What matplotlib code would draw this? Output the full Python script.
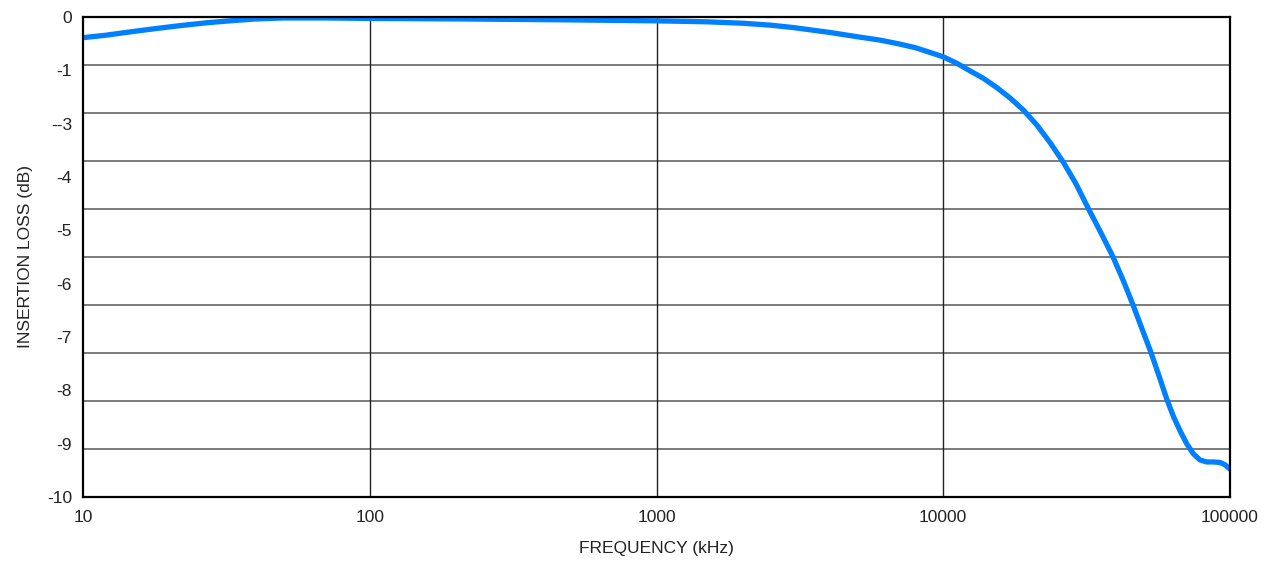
import matplotlib
matplotlib.use("Agg")
import matplotlib.pyplot as plt
import numpy as np
from matplotlib.ticker import FixedLocator, NullFormatter

plt.rcParams['font.family'] = ['Liberation Sans Narrow', 'Liberation Sans', 'DejaVu Sans']

freq_khz = [10, 12, 14.6, 18, 21.8, 27, 32.5, 40, 50, 70, 100, 200, 500,
            1000, 1500, 2000, 2500, 3000, 4000, 5000, 6000, 7000, 8000, 9010,
            10000, 11160, 12420, 13820, 15370, 17120, 19040, 21200, 23600, 26250, 29000,
            32000, 35500, 39100, 42500, 45900, 49500, 53100, 56500, 60180, 63470, 66950, 70630, 74500,
            78630, 82960, 87500, 92300, 96150, 100000]
loss_db = [-0.43, -0.38, -0.31, -0.24, -0.18, -0.12, -0.08, -0.04, -0.02, -0.02, -0.03, -0.04, -0.06,
           -0.08, -0.10, -0.13, -0.17, -0.22, -0.32, -0.41, -0.48, -0.56, -0.64, -0.74,
           -0.83, -0.965, -1.125, -1.28, -1.47, -1.69, -1.94, -2.25, -2.62, -3.03, -3.47,
           -3.98, -4.5, -5.0, -5.5, -6.0, -6.52, -7.0, -7.47, -7.96, -8.32, -8.62, -8.89, -9.10,
           -9.23, -9.27, -9.27, -9.28, -9.33, -9.42]

x_ticks = [10, 100, 1000, 10000, 100000]
x_labels = ["10", "100", "1000", "10000", "100000"]
y_labels = ["0", "-1", "--3", "-4", "-5", "-6", "-7", "-8", "-9", "-10"]
y_grid = list(range(0, -11, -1))

fig = plt.figure(figsize=(12.7, 5.61), dpi=100)
ax = fig.add_axes([83/1270, 64/561, 1147/1270, 480/561])

ax.set_xscale('log')
ax.set_xlim(10, 100000)
ax.set_ylim(-10, 0)

for g in y_grid[1:-1]:
    ax.axhline(g, color='#7a7a7a', lw=1.4, zorder=1)
for xv in x_ticks[1:-1]:
    ax.axvline(xv, color='#222222', lw=1.0, zorder=1)

ax.plot(freq_khz, loss_db, color='#0080ff', lw=3.8, solid_capstyle='round',
        solid_joinstyle='round', zorder=3)

ax.xaxis.set_major_locator(FixedLocator(x_ticks))
ax.set_xticklabels(x_labels)
ax.xaxis.set_minor_locator(FixedLocator([]))
ax.xaxis.set_minor_formatter(NullFormatter())
ax.set_yticks(np.linspace(0, -10, len(y_labels)))
ax.set_yticklabels(y_labels)
ax.tick_params(axis='both', length=0, labelsize=12.5, colors='#222222')
ax.tick_params(axis='x', pad=9)
ax.tick_params(axis='y', pad=8)

for s in ax.spines.values():
    s.set_color('black')
    s.set_linewidth(1.6)
    s.set_zorder(4)

ax.set_xlabel('FREQUENCY (kHz)', fontsize=12.5, color='#222222', labelpad=12)
ax.set_ylabel('INSERTION LOSS (dB)', fontsize=12.5, color='#222222', labelpad=10)

fig.savefig('out.png', dpi=100)
